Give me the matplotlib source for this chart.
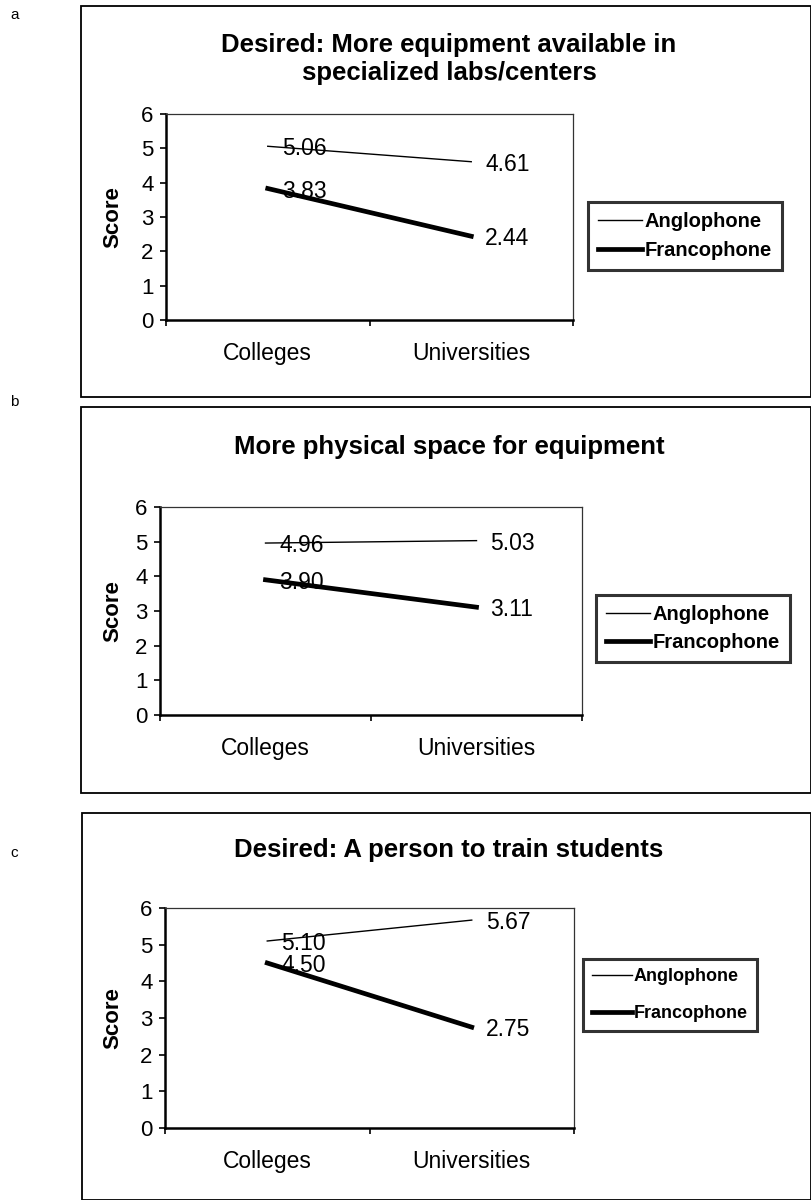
import matplotlib
matplotlib.use('Agg')
import matplotlib.pyplot as plt
from matplotlib.patches import Rectangle

plt.rcParams['font.family'] = ['Liberation Sans', 'DejaVu Sans']

categories = ['Colleges', 'Universities']
series_names = ['Anglophone', 'Francophone']

titles = ['Desired: More equipment available in\nspecialized labs/centers',
          'More physical space for equipment',
          'Desired: A person to train students']
panel_letters = ['a', 'b', 'c']

anglo_a = [5.06, 4.61]
franco_a = [3.83, 2.44]
anglo_b = [4.96, 5.03]
franco_b = [3.90, 3.11]
anglo_c = [5.10, 5.67]
franco_c = [4.50, 2.75]

W, H = 811, 1200
fig = plt.figure(figsize=(W / 100, H / 100), dpi=100)


def fx(x):
    return x / W


def fy(y):
    return 1 - y / H


# pixel layout of each panel
layouts = [
    dict(box=(81, 6, 811, 397), plot=(166, 114, 573, 320), leg=(588, 202), ty=59, ly=15,
         legfs=14.5, legsp=0.5),
    dict(box=(81, 407, 811, 793), plot=(160, 507, 582, 715), leg=(596, 595), ty=447, ly=402,
         legfs=14.5, legsp=0.45),
    dict(box=(82, 813, 811, 1200), plot=(165, 908, 574, 1128), leg=(583, 959), ty=850, ly=853,
         legfs=13, legsp=1.1),
]
data = [(anglo_a, franco_a), (anglo_b, franco_b), (anglo_c, franco_c)]

for i in range(3):
    lay = layouts[i]
    bx0, by0, bx1, by1 = lay['box']
    fig.patches.append(Rectangle((fx(bx0), fy(by1)), fx(bx1 - bx0), (by1 - by0) / H,
                                 transform=fig.transFigure, fill=False,
                                 edgecolor='black', linewidth=1.3))
    fig.text(fx(10), fy(lay['ly']), panel_letters[i], fontsize=11, ha='left', va='center')
    fig.text(fx(449), fy(lay['ty']), titles[i], fontsize=18.5,
             fontweight='bold', ha='center', va='center', linespacing=1.25)

    px0, py0, px1, py1 = lay['plot']
    ax = fig.add_axes([fx(px0), fy(py1), fx(px1 - px0), (py1 - py0) / H])
    xs = [0.5, 1.5]
    anglo, franco = data[i]
    ax.plot(xs, anglo, color='black', linewidth=1.0, label=series_names[0])
    ax.plot(xs, franco, color='black', linewidth=3.4, label=series_names[1])
    for vals in (anglo, franco):
        for x, v in zip(xs, vals):
            ax.annotate('%.2f' % v, (x, v), xytext=(10, 0), textcoords='offset points',
                        ha='left', va='center_baseline', fontsize=16.5)

    ax.set_xlim(0, 2)
    ax.set_ylim(0, 6)
    ax.set_yticks(range(7))
    ax.set_xticks([0, 1, 2])
    ax.set_xticklabels([])
    ax.set_xticks(xs, minor=True)
    ax.set_xticklabels(categories, minor=True, fontsize=16.5)
    ax.tick_params(axis='x', which='minor', length=0, pad=16)
    ax.tick_params(axis='x', which='major', length=4, width=1.2, direction='out')
    ax.tick_params(axis='y', length=4, width=1.2, direction='out', labelsize=16, pad=5)
    ax.set_ylabel('Score', fontsize=16, fontweight='bold')
    ax.yaxis.set_label_coords((123 - px0) / (px1 - px0), 0.5)
    for s in ['left', 'bottom']:
        ax.spines[s].set_linewidth(1.8)
    for s in ['top', 'right']:
        ax.spines[s].set_linewidth(0.9)
        ax.spines[s].set_color('#333333')

    lx, ly = lay['leg']
    leg = ax.legend(loc='upper left', bbox_to_anchor=(fx(lx), fy(ly)),
                    bbox_transform=fig.transFigure, frameon=True, fancybox=False,
                    prop={'weight': 'bold', 'size': lay['legfs']}, handlelength=2.2,
                    handletextpad=0.1, borderpad=0.5, labelspacing=lay['legsp'],
                    borderaxespad=0)
    leg.get_frame().set_edgecolor('black')
    leg.get_frame().set_linewidth(2.2)

fig.savefig('out.png', dpi=100)
